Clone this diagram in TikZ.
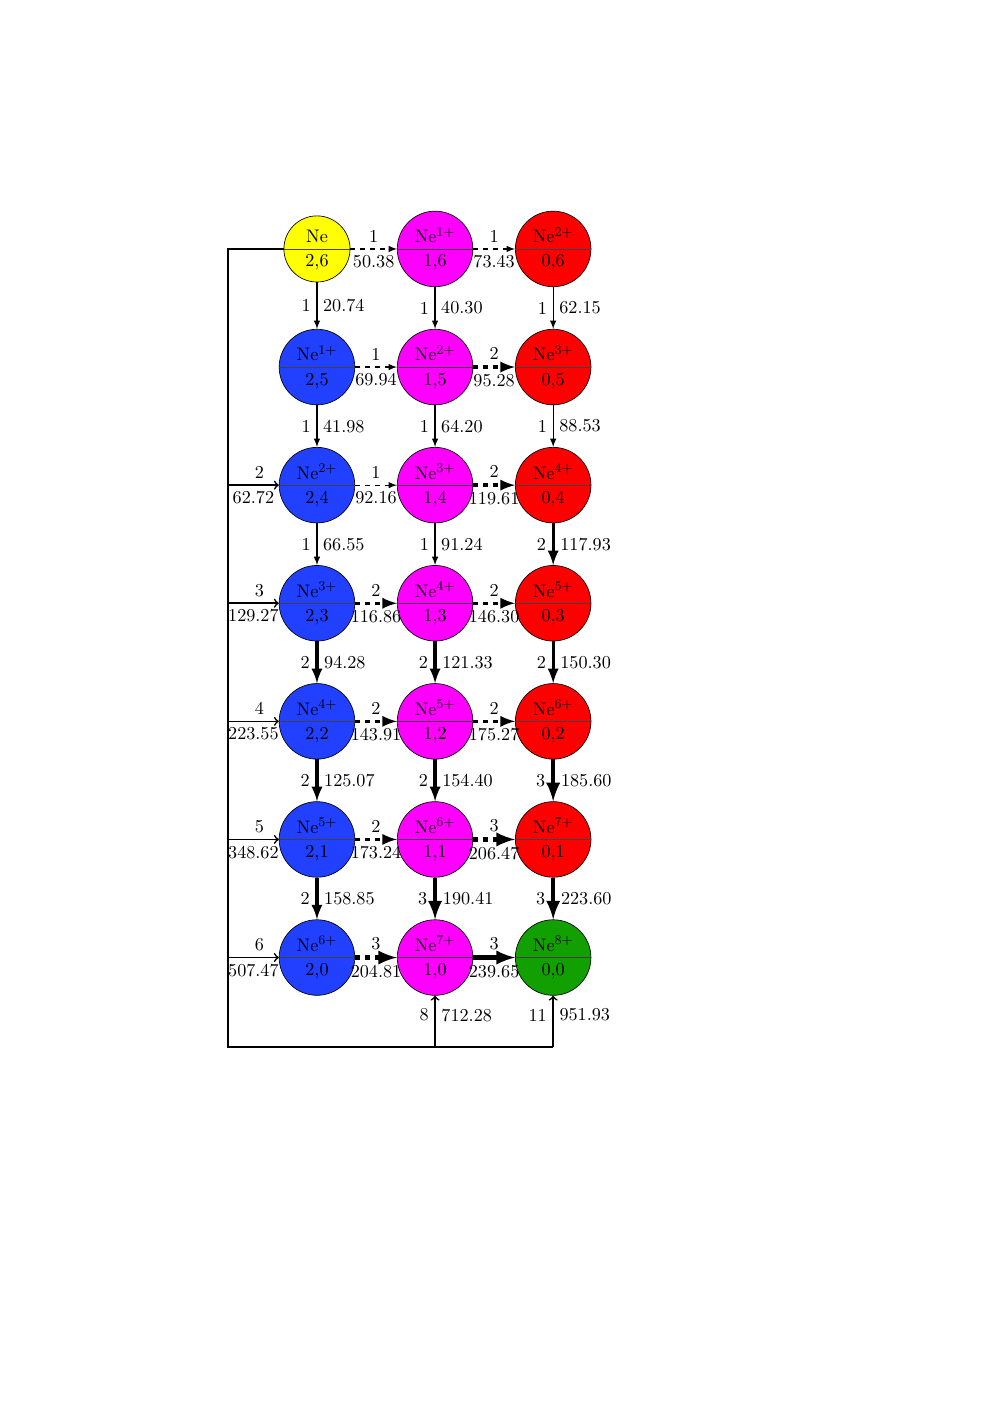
\documentclass[tikz,border=0pt]{standalone}
\usetikzlibrary{calc,arrows}
\definecolor{cyel}{RGB}{255,255,0}
\definecolor{cmag}{RGB}{255,0,255}
\definecolor{cred}{RGB}{255,0,0}
\definecolor{cblu}{RGB}{33,64,255}
\definecolor{cgrn}{RGB}{17,160,0}
\tikzset{
  ion/.style={circle,draw,line width=0.4pt,minimum size=1.6cm,inner sep=0pt},
  ionsmall/.style={ion,minimum size=1.4cm},
  hA/.style={-latex,dashed,line width=0.75pt},
  hB/.style={-latex,dashed,line width=2pt},
  hC/.style={-latex,dashed,line width=2.8pt},
  hCs/.style={-latex,line width=2.8pt},
  vA/.style={-latex,line width=0.75pt},
  vB/.style={-latex,line width=2pt},
  vC/.style={-latex,line width=2.8pt},
  feed/.style={-to,line width=1pt},
  trunk/.style={line width=1.1pt},
  midline/.style={line width=0.4pt,black!75},
}
\newcommand\ionN[6]{%
  \node[#6,fill=#3] (#1) at #2 {};
  \draw[midline] (#1.west) -- (#1.east);
  \node[above] at (#1.center) {#4};
  \node[below] at (#1.center) {#5};
}
\newcommand\hedge[5]{%
  \draw[#3] (#1) -- (#2) node[midway,above]{#4} node[midway,below]{#5};
}
\newcommand\vedge[5]{%
  \draw[#3] (#1) -- (#2) node[midway,left]{#4} node[midway,right]{#5};
}
\begin{document}
\begin{tikzpicture}[font=\fontsize{10.95}{13.6}\selectfont]
\useasboundingbox (-6.71,5.27) rectangle (14.29,-24.43);
% nodes
\ionN{n01}{(0,0)}{cyel}{Ne}{2,6}{ionsmall}
\ionN{n02}{(0,-2.5)}{cblu}{Ne$^{1+}$}{2,5}{ion}
\ionN{n03}{(0,-5)}{cblu}{Ne$^{2+}$}{2,4}{ion}
\ionN{n04}{(0,-7.5)}{cblu}{Ne$^{3+}$}{2,3}{ion}
\ionN{n05}{(0,-10)}{cblu}{Ne$^{4+}$}{2,2}{ion}
\ionN{n06}{(0,-12.5)}{cblu}{Ne$^{5+}$}{2,1}{ion}
\ionN{n07}{(0,-15)}{cblu}{Ne$^{6+}$}{2,0}{ion}
\ionN{n11}{(2.5,0)}{cmag}{Ne$^{1+}$}{1,6}{ion}
\ionN{n12}{(2.5,-2.5)}{cmag}{Ne$^{2+}$}{1,5}{ion}
\ionN{n13}{(2.5,-5)}{cmag}{Ne$^{3+}$}{1,4}{ion}
\ionN{n14}{(2.5,-7.5)}{cmag}{Ne$^{4+}$}{1,3}{ion}
\ionN{n15}{(2.5,-10)}{cmag}{Ne$^{5+}$}{1,2}{ion}
\ionN{n16}{(2.5,-12.5)}{cmag}{Ne$^{6+}$}{1,1}{ion}
\ionN{n17}{(2.5,-15)}{cmag}{Ne$^{7+}$}{1,0}{ion}
\ionN{n21}{(5,0)}{cred}{Ne$^{2+}$}{0,6}{ion}
\ionN{n22}{(5,-2.5)}{cred}{Ne$^{3+}$}{0,5}{ion}
\ionN{n23}{(5,-5)}{cred}{Ne$^{4+}$}{0,4}{ion}
\ionN{n24}{(5,-7.5)}{cred}{Ne$^{5+}$}{0,3}{ion}
\ionN{n25}{(5,-10)}{cred}{Ne$^{6+}$}{0,2}{ion}
\ionN{n26}{(5,-12.5)}{cred}{Ne$^{7+}$}{0,1}{ion}
\ionN{n27}{(5,-15)}{cgrn}{Ne$^{8+}$}{0,0}{ion}
% horizontal edges
\hedge{n01}{n11}{hA}{1}{50.38}
\hedge{n11}{n21}{hA}{1}{73.43}
\hedge{n02}{n12}{hA}{1}{69.94}
\hedge{n12}{n22}{hB}{2}{95.28}
\hedge{n03}{n13}{hA}{1}{92.16}
\hedge{n13}{n23}{hB}{2}{119.61}
\hedge{n04}{n14}{hB}{2}{116.86}
\hedge{n14}{n24}{hB}{2}{146.30}
\hedge{n05}{n15}{hB}{2}{143.91}
\hedge{n15}{n25}{hB}{2}{175.27}
\hedge{n06}{n16}{hB}{2}{173.24}
\hedge{n16}{n26}{hC}{3}{206.47}
\hedge{n07}{n17}{hC}{3}{204.81}
\hedge{n17}{n27}{hCs}{3}{239.65}
% vertical edges
\vedge{n01}{n02}{vA}{1}{20.74}
\vedge{n02}{n03}{vA}{1}{41.98}
\vedge{n03}{n04}{vA}{1}{66.55}
\vedge{n04}{n05}{vB}{2}{94.28}
\vedge{n05}{n06}{vB}{2}{125.07}
\vedge{n06}{n07}{vB}{2}{158.85}
\vedge{n11}{n12}{vA}{1}{40.30}
\vedge{n12}{n13}{vA}{1}{64.20}
\vedge{n13}{n14}{vA}{1}{91.24}
\vedge{n14}{n15}{vB}{2}{121.33}
\vedge{n15}{n16}{vB}{2}{154.40}
\vedge{n16}{n17}{vC}{3}{190.41}
\vedge{n21}{n22}{vA}{1}{62.15}
\vedge{n22}{n23}{vA}{1}{88.53}
\vedge{n23}{n24}{vB}{2}{117.93}
\vedge{n24}{n25}{vB}{2}{150.30}
\vedge{n25}{n26}{vC}{3}{185.60}
\vedge{n26}{n27}{vC}{3}{223.60}
% trunk
\coordinate (L1) at (-1.884,0);
\coordinate (L2) at (-1.884,-16.89);
\coordinate (M2) at (2.5,-16.89);
\coordinate (R2) at (5,-16.89);
\draw[trunk] (n01.west) -- (L1) -- (L2) -- (R2);
\draw[feed] (L1 |- n03) -- (n03.west) node[pos=0.62,above]{2} node[midway,below]{62.72};
\draw[feed] (L1 |- n04) -- (n04.west) node[pos=0.62,above]{3} node[midway,below]{129.27};
\draw[feed] (L1 |- n05) -- (n05.west) node[pos=0.62,above]{4} node[midway,below]{223.55};
\draw[feed] (L1 |- n06) -- (n06.west) node[pos=0.62,above]{5} node[midway,below]{348.62};
\draw[feed] (L1 |- n07) -- (n07.west) node[pos=0.62,above]{6} node[midway,below]{507.47};
\draw[feed] (M2) -- (n17.south) node[pos=0.62,left]{8} node[pos=0.62,right]{712.28};
\draw[feed] (R2) -- (n27.south) node[pos=0.62,left]{11} node[pos=0.62,right]{951.93};
\end{tikzpicture}
\end{document}
